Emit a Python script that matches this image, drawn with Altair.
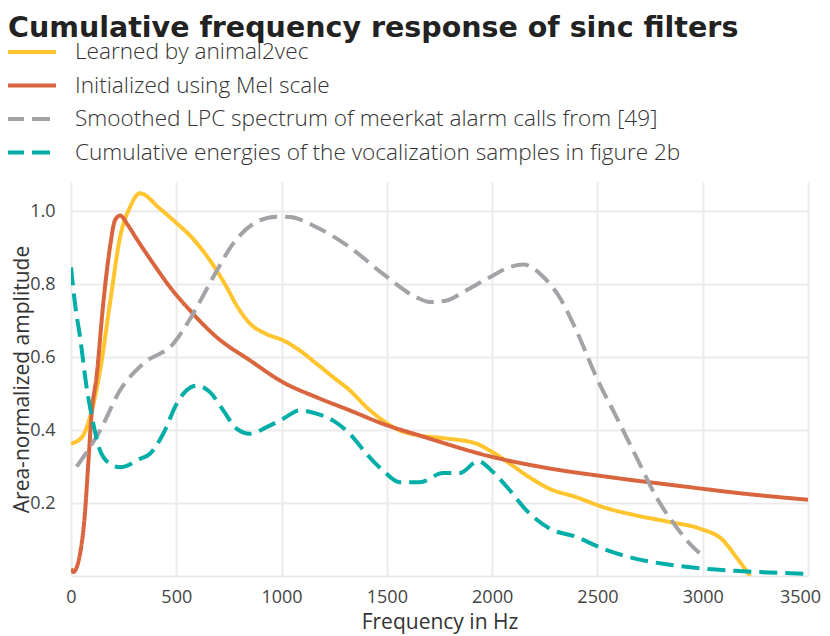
import altair as alt
import pandas as pd

FONT = "Open Sans"

labels = [
    "Learned by animal2vec",
    "Initialized using Mel scale",
    "Smoothed LPC spectrum of meerkat alarm calls from [49]",
    "Cumulative energies of the vocalization samples in figure 2b",
]
colors = ["#FFC42E", "#D9653E", "#A3A2A6", "#00ADA7"]
dashes = [[1, 0], [1, 0], [18, 8], [18, 8]]

learned_f = [0, 51, 90, 138, 185, 233, 280, 327, 422, 486, 580, 660, 739, 786, 850, 929,
             1007, 1087, 1166, 1245, 1324, 1403, 1482, 1561, 1656, 1767, 1925, 1989, 2084,
             2163, 2273, 2400, 2526, 2685, 2843, 2985, 3096, 3159, 3225]
learned_v = [0.363, 0.38, 0.435, 0.563, 0.747, 0.929, 1.011, 1.049, 1.007, 0.975, 0.924,
             0.865, 0.792, 0.742, 0.692, 0.663, 0.646, 0.618, 0.582, 0.545, 0.509, 0.463,
             0.426, 0.399, 0.385, 0.378, 0.363, 0.344, 0.308, 0.276, 0.239, 0.216, 0.189,
             0.166, 0.148, 0.130, 0.098, 0.052, 0.0]

mel_f = [0, 11, 43, 66, 82, 98, 122, 153, 185, 209, 233, 270, 312, 391, 470, 565, 691, 850,
         1007, 1166, 1324, 1482, 1656, 2004, 2241, 2558, 2875, 3191, 3500]
mel_v = [0.02, 0.011, 0.061, 0.171, 0.308, 0.445, 0.55, 0.746, 0.901, 0.975, 0.988, 0.962,
         0.924, 0.856, 0.792, 0.728, 0.655, 0.591, 0.531, 0.49, 0.454, 0.417, 0.385, 0.326,
         0.298, 0.271, 0.248, 0.226, 0.209]

lpc_f = [27, 138, 233, 343, 486, 580, 675, 770, 865, 976, 1039, 1166, 1324, 1482, 1640,
         1704, 1783, 1862, 1989, 2084, 2147, 2241, 2320, 2400, 2495, 2590, 2685, 2780, 2875,
         2938, 2985]
lpc_v = [0.30, 0.399, 0.509, 0.582, 0.637, 0.719, 0.819, 0.911, 0.965, 0.985, 0.984, 0.956,
         0.901, 0.828, 0.764, 0.751, 0.755, 0.778, 0.819, 0.847, 0.854, 0.821, 0.764, 0.673,
         0.545, 0.436, 0.326, 0.216, 0.134, 0.089, 0.063]

energy_f = [0, 19, 43, 74, 106, 138, 185, 233, 327, 375, 438, 502, 549, 597, 660, 723, 786,
            850, 929, 1007, 1087, 1166, 1245, 1324, 1403, 1482, 1561, 1656, 1767, 1846, 1933,
            2004, 2084, 2163, 2273, 2400, 2526, 2685, 2843, 3001, 3191, 3500]
energy_v = [0.846, 0.746, 0.655, 0.518, 0.417, 0.344, 0.308, 0.298, 0.321, 0.335, 0.39,
            0.472, 0.509, 0.522, 0.504, 0.454, 0.404, 0.39, 0.408, 0.431, 0.454, 0.445, 0.426,
            0.39, 0.335, 0.289, 0.257, 0.257, 0.282, 0.282, 0.315, 0.285, 0.235, 0.18, 0.13,
            0.107, 0.075, 0.047, 0.031, 0.02, 0.013, 0.006]

x_ticks = [0, 500, 1000, 1500, 2000, 2500, 3000, 3500]
y_ticks = [0, 0.2, 0.4, 0.6, 0.8, 1.0]

rows = []
for i, (lab, fs, vs) in enumerate(zip(labels, [learned_f, mel_f, lpc_f, energy_f],
                                      [learned_v, mel_v, lpc_v, energy_v])):
    for f, v in zip(fs, vs):
        rows.append({"series": lab, "freq": f, "amp": v, "order": i})
df = pd.DataFrame(rows)

chart = alt.Chart(df).mark_line(strokeWidth=4, interpolate="monotone", clip=True).encode(
    x=alt.X("freq:Q", scale=alt.Scale(domain=[0, 3500], nice=False, zero=False),
            axis=alt.Axis(title="Frequency in Hz", values=x_ticks, format="d",
                          labelFontSize=18, labelPadding=12, labelFlush=False,
                          labelOffset={"condition": {"test": "datum.value == 3500",
                                                     "value": -8}, "value": 0},
                          titleFontSize=21, titlePadding=5)),
    y=alt.Y("amp:Q", scale=alt.Scale(domain=[0, 1.08], nice=False),
            axis=alt.Axis(title="Area-normalized amplitude", values=y_ticks,
                          labelExpr="datum.value == 0 ? '' : format(datum.value, '.1f')",
                          labelFontSize=18, labelPadding=16, titleFontSize=21,
                          titleX=-60, titleY=197, titleBaseline="top", titleAngle=270)),
    color=alt.Color("series:N", scale=alt.Scale(domain=labels, range=colors),
                    sort=labels,
                    legend=alt.Legend(title=None, orient="none", legendX=-67, legendY=-145,
                                      symbolType="stroke", symbolSize=2500,
                                      symbolStrokeWidth=4, labelFontSize=22.6,
                                      labelFontWeight=300, clipHeight=30,
                                      labelOffset=17, rowPadding=3.5, labelLimit=0)),
    strokeDash=alt.StrokeDash("series:N", scale=alt.Scale(domain=labels, range=dashes),
                              sort=labels, legend=alt.Legend(title=None)),
    detail="series:N",
    order="order:Q",
).properties(
    width=737,
    height=394,
    autosize=alt.AutoSizeParams(type="none"),
    padding={"left": 63, "top": 174, "right": 14, "bottom": 60},
    title=alt.TitleParams("Cumulative frequency response of sinc filters", anchor="start",
                          frame="group", fontSize=28.5, fontWeight="bold", color="#222222",
                          font="DejaVu Sans", dx=-63, dy=9),
).configure_view(stroke=None).configure_axis(
    grid=True, gridColor="#EBEBEB", gridWidth=2, ticks=False, domain=False,
    labelFont=FONT, titleFont=FONT, labelColor="#444444", titleColor="#333333",
    titleFontWeight="normal",
).configure_legend(labelFont=FONT, labelColor="#333333")

chart.save("out.html", embed_options={"renderer": "svg", "actions": False})
